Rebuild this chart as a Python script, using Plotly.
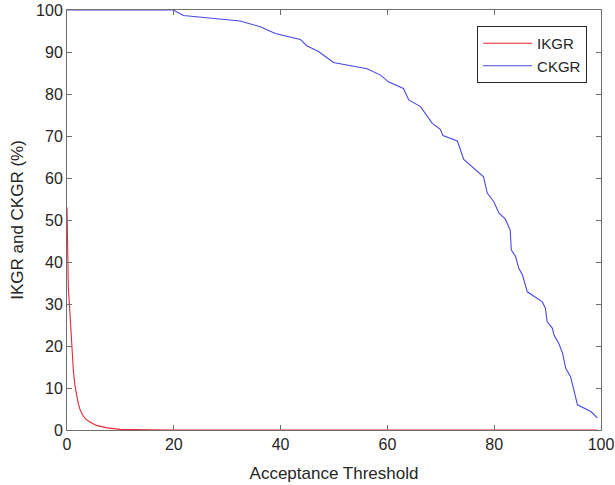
import plotly.graph_objects as go

# IKGR (red) curve
ikgr_x = [0, 0.1, 0.25, 0.45, 0.7, 0.9, 1.2, 1.5, 1.8, 2.1, 2.4, 3.0, 3.5, 4.3, 5.5, 6.5, 7.5, 10, 12, 15, 20, 40, 60, 80, 99.3]
ikgr_y = [53, 40, 34, 30, 24, 20, 14, 10.5, 8.2, 6.4, 5, 3.4, 2.6, 1.9, 1.1, 0.75, 0.5, 0.15, 0.07, 0.03, 0, 0, 0, 0, 0]

# CKGR (blue) curve
ckgr_x = [0, 19.9, 21.8, 32.4, 36.2, 39.0, 43.7, 44.9, 47.1, 49.9, 56.2, 58.7, 60.2, 63.0, 64.0,
          66.2, 68.4, 69.9, 70.4, 73.1, 74.3, 78.0, 78.7, 79.9, 80.9, 82.1, 83.0, 83.2, 84.0, 84.6,
          85.3, 86.2, 89.0, 89.6, 89.9, 90.9, 91.2, 92.1, 92.8, 93.4, 94.3, 95.6, 98.1, 99.3]
ckgr_y = [100, 100, 98.7, 97.4, 96.0, 94.4, 93.0, 91.5, 90.1, 87.5, 86.0, 84.5, 82.9, 81.3, 78.6,
          77.0, 73.0, 71.6, 70.1, 68.8, 64.4, 60.3, 56.4, 54.4, 51.6, 50.2, 47.6, 42.9, 41.3, 38.5,
          36.9, 32.9, 30.5, 29.0, 25.8, 24.2, 22.6, 20.6, 18.3, 14.7, 12.7, 6.0, 4.4, 2.9]

tick_vals = [0, 20, 40, 60, 80, 100]
ytick_vals = [0, 10, 20, 30, 40, 50, 60, 70, 80, 90, 100]

font_family = "Liberation Sans, Arial, sans-serif"
text_color = "#262626"
axis_color = "#6e6e6e"

fig = go.Figure()
fig.add_trace(go.Scatter(x=ikgr_x, y=ikgr_y, mode="lines", name="IKGR",
                         line=dict(color="rgb(228,40,52)", width=1.1)))
fig.add_trace(go.Scatter(x=ckgr_x, y=ckgr_y, mode="lines", name="CKGR",
                         line=dict(color="rgb(72,72,228)", width=1.1)))

axis_common = dict(showgrid=False, zeroline=False, showline=True, linecolor=axis_color,
                   linewidth=1, mirror="ticks", ticks="inside", ticklen=5, tickcolor=axis_color,
                   automargin=False,
                   tickfont=dict(family=font_family, size=16, color=text_color))

fig.update_layout(
    width=615, height=485,
    margin=dict(l=67, r=14, t=10, b=55),
    paper_bgcolor="white", plot_bgcolor="white",
    font=dict(family=font_family, color=text_color),
    showlegend=True,
    legend=dict(x=0.768, y=0.962, xanchor="left", yanchor="top",
                bgcolor="white", bordercolor=text_color, borderwidth=1,
                font=dict(family=font_family, size=15, color=text_color),
                tracegroupgap=0, itemwidth=49),
    xaxis=dict(range=[0, 100], tickvals=tick_vals,
               title=dict(text="Acceptance Threshold", standoff=14,
                          font=dict(family=font_family, size=17, color=text_color)),
               **axis_common),
    yaxis=dict(range=[0, 100], tickvals=ytick_vals,
               title=dict(text="IKGR and CKGR (%)", standoff=8,
                          font=dict(family=font_family, size=17, color=text_color)),
               **axis_common),
)

fig.write_html("out.html", config={"displayModeBar": False},
               post_script="document.body.style.margin='0';")
